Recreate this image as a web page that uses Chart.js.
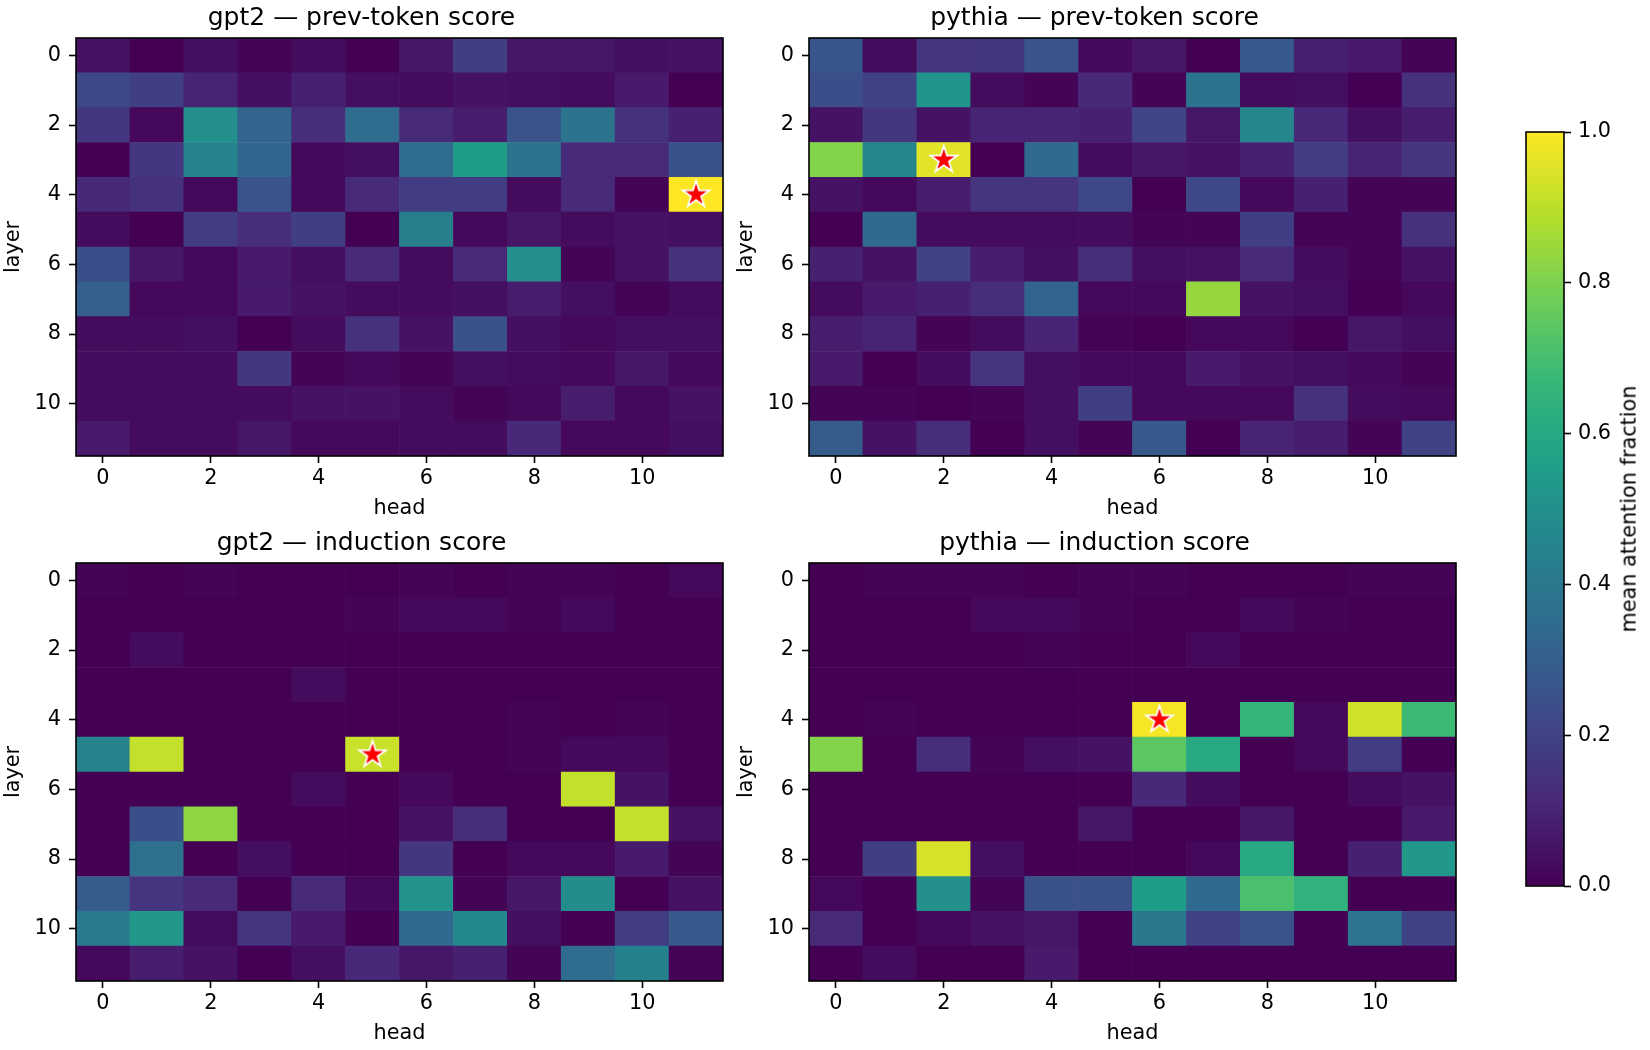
<!DOCTYPE html>
<html>
<head>
<meta charset="utf-8">
<script src="https://cdn.jsdelivr.net/npm/chart.js@4.4.1/dist/chart.umd.min.js"></script>
<style>
  html, body { margin: 0; padding: 0; background: #fff; }
  body { position: relative; width: 1650px; height: 1050px; overflow: hidden; font-family: 'DejaVu Sans', sans-serif; }
  canvas { position: absolute; }
  #cbLabel {
    position: absolute; left: 1629px; top: 509px;
    transform: translate(-50%, -50%) rotate(-90deg);
    font-size: 20.8px; line-height: 1; white-space: nowrap; color: #000;
  }
</style>
</head>
<body>
<canvas id="gpt2Prev" width="730" height="521" style="left:0;top:0"></canvas>
<canvas id="pythiaPrev" width="730" height="521" style="left:733px;top:0"></canvas>
<canvas id="gpt2Ind" width="730" height="521" style="left:0;top:525px"></canvas>
<canvas id="pythiaInd" width="730" height="521" style="left:733px;top:525px"></canvas>
<canvas id="cbar" width="124" height="806" style="left:1500px;top:100px"></canvas>
<div id="cbLabel">mean attention fraction</div>
<script>
// heads on x, layers on y
const heads = [0, 1, 2, 3, 4, 5, 6, 7, 8, 9, 10, 11]
const layers = [0, 1, 2, 3, 4, 5, 6, 7, 8, 9, 10, 11]
const axisTicks = [0, 2, 4, 6, 8, 10]
const cbTicks = [0, 0.2, 0.4, 0.6, 0.8, 1.0]

// rows = layer, cols = head
const gpt2Prev = [
  [0.05, 0.00, 0.04, 0.01, 0.03, 0.00, 0.06, 0.19, 0.06, 0.06, 0.04, 0.05],
  [0.22, 0.19, 0.10, 0.04, 0.09, 0.04, 0.03, 0.05, 0.04, 0.03, 0.07, 0.00],
  [0.16, 0.02, 0.50, 0.32, 0.13, 0.35, 0.12, 0.08, 0.26, 0.38, 0.14, 0.09],
  [0.00, 0.16, 0.45, 0.33, 0.02, 0.04, 0.35, 0.55, 0.38, 0.12, 0.12, 0.25],
  [0.11, 0.14, 0.02, 0.26, 0.02, 0.12, 0.18, 0.18, 0.03, 0.12, 0.01, 1.00],
  [0.03, 0.00, 0.18, 0.13, 0.19, 0.00, 0.43, 0.02, 0.06, 0.03, 0.05, 0.04],
  [0.24, 0.06, 0.02, 0.07, 0.04, 0.12, 0.03, 0.12, 0.50, 0.01, 0.05, 0.14],
  [0.30, 0.02, 0.02, 0.07, 0.05, 0.03, 0.03, 0.04, 0.08, 0.04, 0.01, 0.03],
  [0.03, 0.03, 0.04, 0.00, 0.03, 0.14, 0.05, 0.25, 0.04, 0.02, 0.04, 0.04],
  [0.03, 0.03, 0.03, 0.16, 0.01, 0.02, 0.01, 0.04, 0.03, 0.02, 0.06, 0.02],
  [0.03, 0.03, 0.03, 0.03, 0.05, 0.05, 0.03, 0.01, 0.02, 0.08, 0.02, 0.05],
  [0.07, 0.03, 0.03, 0.06, 0.02, 0.02, 0.03, 0.03, 0.11, 0.02, 0.02, 0.04]
]

const pythiaPrev = [
  [0.27, 0.03, 0.15, 0.16, 0.26, 0.02, 0.06, 0.00, 0.28, 0.09, 0.07, 0.01],
  [0.24, 0.20, 0.52, 0.03, 0.01, 0.11, 0.01, 0.38, 0.03, 0.04, 0.00, 0.14],
  [0.05, 0.16, 0.05, 0.10, 0.10, 0.09, 0.21, 0.06, 0.46, 0.11, 0.04, 0.08],
  [0.81, 0.46, 0.96, 0.00, 0.34, 0.03, 0.06, 0.05, 0.09, 0.18, 0.10, 0.15],
  [0.05, 0.02, 0.08, 0.15, 0.15, 0.22, 0.00, 0.22, 0.02, 0.09, 0.01, 0.01],
  [0.00, 0.34, 0.03, 0.03, 0.03, 0.03, 0.01, 0.01, 0.19, 0.01, 0.01, 0.14],
  [0.09, 0.05, 0.20, 0.08, 0.04, 0.13, 0.04, 0.05, 0.12, 0.03, 0.01, 0.05],
  [0.03, 0.07, 0.09, 0.13, 0.32, 0.02, 0.02, 0.84, 0.05, 0.04, 0.00, 0.02],
  [0.08, 0.10, 0.01, 0.03, 0.10, 0.01, 0.00, 0.02, 0.02, 0.00, 0.06, 0.04],
  [0.07, 0.00, 0.03, 0.15, 0.04, 0.02, 0.02, 0.07, 0.05, 0.04, 0.02, 0.01],
  [0.01, 0.01, 0.00, 0.01, 0.04, 0.19, 0.02, 0.02, 0.02, 0.14, 0.03, 0.02],
  [0.29, 0.05, 0.13, 0.00, 0.04, 0.01, 0.28, 0.00, 0.10, 0.08, 0.01, 0.20]
]

const gpt2Ind = [
  [0.01, 0.00, 0.01, 0.00, 0.00, 0.00, 0.01, 0.00, 0.01, 0.01, 0.00, 0.02],
  [0.00, 0.00, 0.00, 0.00, 0.00, 0.01, 0.02, 0.02, 0.01, 0.02, 0.00, 0.00],
  [0.00, 0.03, 0.00, 0.00, 0.00, 0.00, 0.00, 0.00, 0.00, 0.00, 0.00, 0.00],
  [0.00, 0.00, 0.00, 0.00, 0.03, 0.00, 0.00, 0.00, 0.00, 0.00, 0.00, 0.00],
  [0.00, 0.00, 0.00, 0.00, 0.00, 0.00, 0.00, 0.00, 0.01, 0.00, 0.01, 0.00],
  [0.45, 0.91, 0.00, 0.00, 0.00, 0.92, 0.00, 0.00, 0.01, 0.02, 0.02, 0.00],
  [0.00, 0.00, 0.00, 0.00, 0.03, 0.00, 0.02, 0.00, 0.00, 0.91, 0.05, 0.00],
  [0.00, 0.24, 0.83, 0.00, 0.00, 0.00, 0.05, 0.13, 0.00, 0.00, 0.91, 0.05],
  [0.00, 0.37, 0.00, 0.04, 0.00, 0.00, 0.16, 0.00, 0.02, 0.02, 0.07, 0.01],
  [0.29, 0.15, 0.12, 0.00, 0.12, 0.02, 0.51, 0.01, 0.06, 0.49, 0.00, 0.05],
  [0.41, 0.53, 0.03, 0.15, 0.07, 0.00, 0.34, 0.47, 0.04, 0.00, 0.18, 0.28],
  [0.02, 0.08, 0.05, 0.00, 0.04, 0.11, 0.06, 0.09, 0.01, 0.35, 0.44, 0.01]
]

const pythiaInd = [
  [0.00, 0.01, 0.01, 0.01, 0.00, 0.01, 0.01, 0.00, 0.00, 0.00, 0.01, 0.01],
  [0.00, 0.00, 0.00, 0.02, 0.02, 0.01, 0.00, 0.00, 0.02, 0.01, 0.00, 0.00],
  [0.00, 0.00, 0.00, 0.00, 0.01, 0.00, 0.00, 0.02, 0.00, 0.00, 0.00, 0.00],
  [0.00, 0.00, 0.00, 0.00, 0.00, 0.00, 0.00, 0.00, 0.00, 0.00, 0.00, 0.00],
  [0.00, 0.01, 0.00, 0.00, 0.00, 0.00, 0.99, 0.00, 0.66, 0.02, 0.93, 0.68],
  [0.81, 0.00, 0.13, 0.01, 0.04, 0.05, 0.74, 0.60, 0.00, 0.02, 0.18, 0.00],
  [0.00, 0.00, 0.00, 0.00, 0.00, 0.00, 0.11, 0.03, 0.00, 0.00, 0.03, 0.05],
  [0.00, 0.00, 0.00, 0.00, 0.00, 0.06, 0.00, 0.00, 0.06, 0.00, 0.00, 0.07],
  [0.00, 0.19, 0.94, 0.04, 0.00, 0.00, 0.00, 0.02, 0.60, 0.00, 0.09, 0.53],
  [0.02, 0.00, 0.50, 0.01, 0.25, 0.25, 0.55, 0.34, 0.71, 0.64, 0.00, 0.00],
  [0.12, 0.00, 0.02, 0.05, 0.06, 0.00, 0.40, 0.20, 0.26, 0.00, 0.39, 0.20],
  [0.00, 0.03, 0.00, 0.00, 0.07, 0.00, 0.00, 0.00, 0.00, 0.00, 0.00, 0.00]
]

const panels = [
  { id: 'gpt2Prev', title: 'gpt2 — prev-token score', grid: gpt2Prev },
  { id: 'pythiaPrev', title: 'pythia — prev-token score', grid: pythiaPrev },
  { id: 'gpt2Ind', title: 'gpt2 — induction score', grid: gpt2Ind },
  { id: 'pythiaInd', title: 'pythia — induction score', grid: pythiaInd }
]

// viridis, 10 evenly spaced stops
const viridis = ['#440154', '#482878', '#3e4989', '#31688e', '#26828e',
  '#1f9e89', '#35b779', '#6ece58', '#b5de2b', '#fde725']

const hexRgb = h => [1, 3, 5].map(i => parseInt(h.slice(i, i + 2), 16))

const cmap = v => {
  const t = Math.min(Math.max(v, 0), 1) * (viridis.length - 1)
  const i = Math.min(Math.floor(t), viridis.length - 2)
  const f = t - i
  const a = hexRgb(viridis[i]), b = hexRgb(viridis[i + 1])
  const c = a.map((x, k) => Math.round(x + (b[k] - x) * f))
  return `rgb(${c[0]},${c[1]},${c[2]})`
}

const argmax = grid => {
  let best = { x: 0, y: 0 }, bv = -1
  grid.forEach((row, l) => row.forEach((v, h) => {
    if (v > bv) { bv = v; best = { x: heads[h], y: layers[l] } }
  }))
  return best
}

const makeStar = () => {
  const c = document.createElement('canvas')
  c.width = c.height = 36
  const g = c.getContext('2d')
  g.beginPath()
  for (let i = 0; i < 10; i++) {
    const r = i % 2 ? 5.35 : 14
    const a = -Math.PI / 2 + i * Math.PI / 5
    g.lineTo(18 + r * Math.cos(a), 18 + r * Math.sin(a))
  }
  g.closePath()
  g.fillStyle = '#ff0000'
  g.fill()
  g.strokeStyle = '#ffffff'
  g.lineWidth = 1.8
  g.stroke()
  return c
}
const star = makeStar()

const frame = {
  id: 'frame',
  afterDatasetsDraw(chart) {
    const { ctx, chartArea: a } = chart
    ctx.save()
    ctx.strokeStyle = '#000'
    ctx.lineWidth = 1.6
    ctx.strokeRect(a.left, a.top, a.right - a.left, a.bottom - a.top)
    ctx.restore()
  }
}

Chart.defaults.font.family = "'DejaVu Sans', sans-serif"
Chart.defaults.color = '#000'

const tickGrid = {
  drawOnChartArea: false, drawTicks: true, tickLength: 7,
  tickWidth: 1.6, tickColor: '#000', offset: false
}

panels.forEach(p => {
  const cells = []
  p.grid.forEach((row, l) => row.forEach((v, h) => {
    cells.push({ x: heads[h], y: [layers[l] - 0.5, layers[l] + 0.5], v })
  }))

  new Chart(document.getElementById(p.id), {
    type: 'bar',
    data: {
      datasets: [
        {
          type: 'scatter',
          data: [argmax(p.grid)],
          pointStyle: star,
          pointRadius: 5,
          order: 1
        },
        {
          type: 'bar',
          data: cells,
          backgroundColor: cells.map(c => cmap(c.v)),
          borderWidth: 0,
          barPercentage: 1,
          categoryPercentage: 1,
          order: 2
        }
      ]
    },
    options: {
      responsive: false,
      animation: false,
      devicePixelRatio: 1,
      layout: { padding: { left: 0, right: 7, top: 0, bottom: 0 }, autoPadding: false },
      plugins: {
        legend: { display: false },
        tooltip: { enabled: false },
        title: {
          display: true,
          text: p.title,
          color: '#000',
          font: { size: 25, weight: 'normal' },
          padding: { top: 3, bottom: 5 }
        }
      },
      scales: {
        x: {
          type: 'linear',
          min: -0.5,
          max: 11.5,
          bounds: 'data',
          offset: false,
          afterBuildTicks: s => { s.ticks = axisTicks.map(v => ({ value: v })) },
          afterFit: s => { s.height = 65 },
          grid: tickGrid,
          border: { display: false },
          ticks: { font: { size: 20.8 }, padding: 3, maxRotation: 0, autoSkip: false, callback: v => String(v) },
          title: { display: true, text: 'head', font: { size: 20.8 }, padding: { top: 0, bottom: 0 } }
        },
        y: {
          type: 'linear',
          reverse: true,
          min: -0.5,
          max: 11.5,
          bounds: 'data',
          afterBuildTicks: s => { s.ticks = axisTicks.map(v => ({ value: v })) },
          afterFit: s => { s.width = 76 },
          grid: tickGrid,
          border: { display: false },
          ticks: { font: { size: 20.8 }, padding: 8, autoSkip: false, callback: v => String(v) },
          title: { display: true, text: 'layer', font: { size: 20.8 }, padding: { top: 1, bottom: 0 } }
        }
      }
    },
    plugins: [frame]
  })
})

// colorbar
new Chart(document.getElementById('cbar'), {
  type: 'bar',
  data: {
    labels: [''],
    datasets: [{
      data: [[cbTicks[0], cbTicks[cbTicks.length - 1]]],
      backgroundColor: c => {
        const a = c.chart.chartArea
        if (!a) return viridis[0]
        const g = c.chart.ctx.createLinearGradient(0, a.bottom, 0, a.top)
        viridis.forEach((col, i) => g.addColorStop(i / (viridis.length - 1), col))
        return g
      },
      borderWidth: 0,
      barPercentage: 1,
      categoryPercentage: 1
    }]
  },
  options: {
    responsive: false,
    animation: false,
    devicePixelRatio: 1,
    layout: { padding: { left: 26, right: 0, top: 32, bottom: 20 }, autoPadding: false },
    plugins: { legend: { display: false }, tooltip: { enabled: false } },
    scales: {
      x: { display: false },
      y: {
        position: 'right',
        min: 0,
        max: 1,
        bounds: 'data',
        afterBuildTicks: s => { s.ticks = cbTicks.map(v => ({ value: v })) },
        afterFit: s => { s.width = 60 },
        grid: tickGrid,
        border: { display: false },
        ticks: { font: { size: 20.8 }, padding: 7, autoSkip: false, callback: v => v.toFixed(1) }
      }
    }
  },
  plugins: [frame]
})
</script>
</body>
</html>
